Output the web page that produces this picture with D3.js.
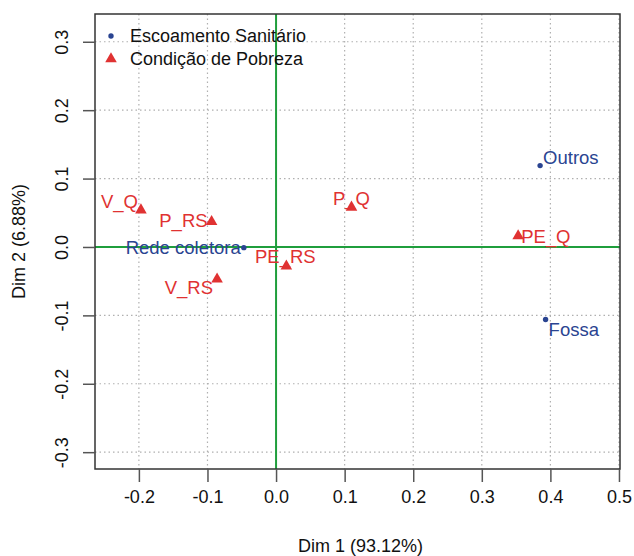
<!DOCTYPE html>
<html><head><meta charset="utf-8">
<script src="https://cdn.jsdelivr.net/npm/d3@7"></script>
<style>body{margin:0;background:#fff}svg{display:block}text{font-family:"Liberation Sans",Arial,sans-serif}</style>
</head><body><svg id="c" width="634" height="556"></svg>
<script>
const xTicks = [-0.2,-0.1,0.0,0.1,0.2,0.3,0.4,0.5];
const yTicks = [-0.3,-0.2,-0.1,0.0,0.1,0.2,0.3];
const xTitle = "Dim 1 (93.12%)";
const yTitle = "Dim 2 (6.88%)";
const legendNames = ["Escoamento Sanitário","Condição de Pobreza"];
// Escoamento Sanitário (column points)
const escLabels = ["Rede coletora","Outros","Fossa"];
const escX = [-0.047, 0.385, 0.393];
const escY = [-0.001, 0.119, -0.106];
// Condição de Pobreza (row points)
const pobLabels = ["V_Q","P_RS","PE_RS","V_RS","P_Q","PE_Q"];
const pobX = [-0.197, -0.094, 0.015, -0.086, 0.110, 0.353];
const pobY = [0.054, 0.037, -0.028, -0.047, 0.058, 0.016];

const W=634,H=556, L=95,R=620,T=14,B=469;
const svg=d3.select("#c");
const x=d3.scaleLinear().domain([-0.264,0.5015]).range([L,R]);
const y=d3.scaleLinear().domain([-0.3246,0.3406]).range([B,T]);
const blue="#2a4491", red="#e03232", green="#1f9e3c";
const fs=18;
const fmt=d=>d.toFixed(1).replace("−","-");

// grid
svg.append("g").selectAll("line").data(xTicks).join("line")
 .attr("x1",d=>x(d)).attr("x2",d=>x(d)).attr("y1",T).attr("y2",B)
 .attr("stroke","#b0b0b0").attr("stroke-dasharray","1.5,3").attr("stroke-width",1.2);
svg.append("g").selectAll("line").data(yTicks).join("line")
 .attr("y1",d=>y(d)).attr("y2",d=>y(d)).attr("x1",L).attr("x2",R)
 .attr("stroke","#b0b0b0").attr("stroke-dasharray","1.5,3").attr("stroke-width",1.2);
// zero lines
svg.append("line").attr("x1",x(0)).attr("x2",x(0)).attr("y1",T).attr("y2",B).attr("stroke",green).attr("stroke-width",2);
svg.append("line").attr("y1",y(0)).attr("y2",y(0)).attr("x1",L).attr("x2",R).attr("stroke",green).attr("stroke-width",2);
// box
svg.append("rect").attr("x",L).attr("y",T).attr("width",R-L).attr("height",B-T).attr("fill","none").attr("stroke","#333").attr("stroke-width",1.5);

// axes
const gx=svg.append("g").attr("transform",`translate(0,${B})`)
 .call(d3.axisBottom(x).tickValues(xTicks).tickFormat(fmt).tickSize(13).tickPadding(8));
gx.select(".domain").remove();
gx.selectAll("line").attr("stroke","#555").attr("stroke-width",1.5);
gx.selectAll("text").attr("font-size",fs).attr("fill","#111").attr("font-family","Liberation Sans, Arial, sans-serif");

const gy=svg.append("g").attr("transform",`translate(${L},0)`)
 .call(d3.axisLeft(y).tickValues(yTicks).tickFormat(fmt).tickSize(12).tickPadding(0));
gy.select(".domain").remove();
gy.selectAll("line").attr("stroke","#555").attr("stroke-width",1.5);
gy.selectAll("text").attr("font-size",fs).attr("fill","#111").attr("font-family","Liberation Sans, Arial, sans-serif")
 .attr("text-anchor","middle").attr("dy","0.35em")
 .attr("transform","translate(-33,0) rotate(-90)").attr("x",0).attr("y",0);

// titles
svg.append("text").attr("x",(L+R)/2+3).attr("y",546).attr("dy","0.35em").attr("text-anchor","middle")
 .attr("font-size",fs).attr("fill","#111").text(xTitle);
svg.append("text").attr("transform",`translate(19,${(T+B)/2}) rotate(-90)`).attr("dy","0.35em").attr("text-anchor","middle")
 .attr("font-size",fs).attr("fill","#111").text(yTitle);

// label placement offsets (per label)
const escOff = [{dx:-3,dy:0,a:"end"},{dx:3,dy:-8,a:"start"},{dx:3,dy:10,a:"start"}];
const pobOff = [{dx:-3,dy:-9,a:"end"},{dx:-4,dy:-1,a:"end"},{dx:-1,dy:-10,a:"middle"},{dx:-4,dy:8,a:"end"},{dx:0,dy:-9,a:"middle"},{dx:3,dy:0,a:"start"}];

const tri=d3.symbol().type(d3.symbolTriangle).size(58);
const esc=escLabels.map((l,i)=>({l,x:escX[i],y:escY[i],o:escOff[i]}));
const pob=pobLabels.map((l,i)=>({l,x:pobX[i],y:pobY[i],o:pobOff[i]}));

svg.append("g").selectAll("circle").data(esc).join("circle")
 .attr("cx",d=>x(d.x)).attr("cy",d=>y(d.y)).attr("r",2.7).attr("fill",blue);
svg.append("g").selectAll("text").data(esc).join("text")
 .attr("x",d=>x(d.x)+d.o.dx).attr("y",d=>y(d.y)+d.o.dy).attr("dy","0.35em").attr("text-anchor",d=>d.o.a)
 .attr("font-size",18.5).attr("fill",blue).text(d=>d.l);

svg.append("g").selectAll("path").data(pob).join("path")
 .attr("d",tri).attr("transform",d=>`translate(${x(d.x)},${y(d.y)})`).attr("fill",red);
svg.append("g").selectAll("text").data(pob).join("text")
 .attr("x",d=>x(d.x)+d.o.dx).attr("y",d=>y(d.y)+d.o.dy).attr("dy","0.35em").attr("text-anchor",d=>d.o.a)
 .attr("font-size",18.5).attr("fill",red).text(d=>d.l);

// legend
const lg=svg.append("g");
lg.append("circle").attr("cx",111).attr("cy",36).attr("r",2.7).attr("fill",blue);
lg.append("path").attr("d",tri).attr("transform","translate(111,59)").attr("fill",red);
lg.selectAll("text").data(legendNames).join("text").attr("x",130).attr("y",(d,i)=>36+i*23).attr("dy","0.35em")
 .attr("font-size",fs).attr("fill","#111").text(d=>d);
</script></body></html>
